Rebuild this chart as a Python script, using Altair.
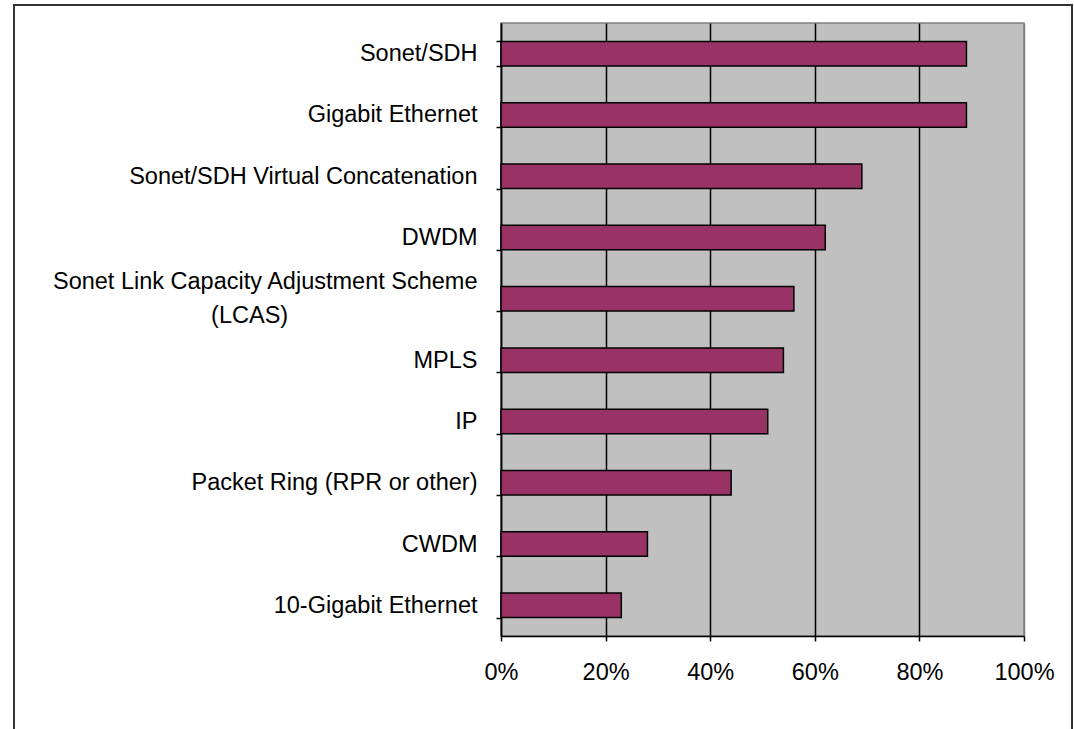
import altair as alt
import pandas as pd

categories = [
    "Sonet/SDH",
    "Gigabit Ethernet",
    "Sonet/SDH Virtual Concatenation",
    "DWDM",
    "Sonet Link Capacity Adjustment Scheme (LCAS)",
    "MPLS",
    "IP",
    "Packet Ring (RPR or other)",
    "CWDM",
    "10-Gigabit Ethernet",
]
values = [0.89, 0.89, 0.69, 0.62, 0.56, 0.54, 0.51, 0.44, 0.28, 0.23]
x_ticks = [0, 0.2, 0.4, 0.6, 0.8, 1.0]

df = pd.DataFrame({"category": categories, "share": values})

FONT = "Liberation Sans"
LONG = "Sonet Link Capacity Adjustment Scheme (LCAS)"
PAD = "\u00a0" * 29 + "\u200b"
label_expr = (
    "datum.label == '" + LONG + "' ? "
    "['Sonet Link Capacity Adjustment Scheme', '(LCAS)" + PAD + "'] : datum.label"
)

bars = alt.Chart(df).mark_bar(
    color="#993366", stroke="black", strokeWidth=1.5
).encode(
    x=alt.X(
        "share:Q",
        scale=alt.Scale(domain=[0, 1], nice=False),
        axis=alt.Axis(
            values=x_ticks,
            format="%",
            title=None,
            grid=True,
            gridColor={"condition": {"test": "datum.value >= 1", "value": "#808080"}, "value": "black"},
            gridWidth=1.5,
            domainColor="black",
            domainWidth=1.5,
            tickColor="black",
            tickWidth=1.5,
            tickSize=5,
            labelFont=FONT,
            labelFontSize=23.5,
            labelColor="black",
            labelPadding=19,
            labelBaseline="top",
            labelFlush=False,
            labelOverlap=False,
        ),
    ),
    y=alt.Y(
        "category:N",
        sort=categories,
        scale=alt.Scale(paddingInner=0.6, paddingOuter=0.3),
        axis=alt.Axis(
            title=None,
            grid=False,
            tickBand="extent",
            domainColor="black",
            domainWidth=1.5,
            tickColor="black",
            tickWidth=1.5,
            tickSize=5,
            labelFont=FONT,
            labelFontSize=23.5,
            labelColor="black",
            labelPadding=19,
            labelLimit=600,
            labelLineHeight=34,
            labelOffset={"condition": {"test": "datum.value == '" + LONG + "'", "value": -17}, "value": 0},
            labelExpr=label_expr,
        ),
    ),
)

frame = alt.Chart(pd.DataFrame({"f": [0]})).mark_rect(
    fill=None, stroke="#333333", strokeWidth=2
).encode(
    x=alt.value(-487), x2=alt.value(571), y=alt.value(-18), y2=alt.value(740)
)

chart = alt.layer(bars, frame).properties(
    width=523,
    height=613,
    autosize=alt.AutoSizeParams(type="none"),
    padding={"left": 501, "top": 23, "right": 50, "bottom": 93},
    background="white",
).configure_view(
    fill="#C0C0C0", stroke="#808080", strokeWidth=1.5
)

chart.save("out.html", embed_options={"renderer": "svg", "actions": False})
